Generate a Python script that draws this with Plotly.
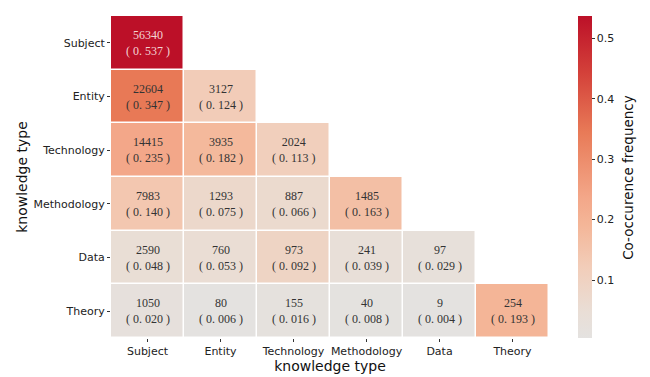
import plotly.graph_objects as go

categories = ["Subject", "Entity", "Technology", "Methodology", "Data", "Theory"]

# counts[row][col]; lower triangle only (None = empty)
counts = [
    [56340, None, None, None, None, None],
    [22604, 3127, None, None, None, None],
    [14415, 3935, 2024, None, None, None],
    [7983, 1293, 887, 1485, None, None],
    [2590, 760, 973, 241, 97, None],
    [1050, 80, 155, 40, 9, 254],
]
freqs = [
    [0.537, None, None, None, None, None],
    [0.347, 0.124, None, None, None, None],
    [0.235, 0.182, 0.113, None, None, None],
    [0.140, 0.075, 0.066, 0.163, None, None],
    [0.048, 0.053, 0.092, 0.039, 0.029, None],
    [0.020, 0.006, 0.016, 0.008, 0.004, 0.193],
]
cbar_ticks = [0.1, 0.2, 0.3, 0.4, 0.5]

colorscale = [
    [0.0, "rgb(228,226,224)"],
    [0.08, "rgb(233,222,214)"],
    [0.22, "rgb(242,205,185)"],
    [0.35, "rgb(244,182,152)"],
    [0.44, "rgb(243,166,136)"],
    [0.64, "rgb(232,122,87)"],
    [0.82, "rgb(212,66,58)"],
    [1.0, "rgb(188,16,40)"],
]

fig = go.Figure(go.Heatmap(
    z=freqs, x=categories, y=categories,
    colorscale=colorscale, zmin=0.004, zmax=0.537,
    xgap=1.5, ygap=1.5, hoverongaps=False,
    colorbar=dict(
        x=1.066, xanchor="left", y=0.5, yanchor="middle", xpad=0,
        len=1.0, lenmode="fraction", thickness=14, ypad=0,
        outlinewidth=0, tickvals=cbar_ticks, ticks="outside", ticklen=3,
        tickcolor="#333", tickfont=dict(family="DejaVu Sans", size=11, color="#222"),
    ),
))

annotations = []
for i, row in enumerate(counts):
    for j, c in enumerate(row):
        if c is None:
            continue
        f = freqs[i][j]
        color = "#f3d4d4" if f > 0.45 else "#333333"
        fs = f"{f:.3f}".replace(".", ". ")
        annotations.append(dict(
            x=categories[j], y=categories[i], xref="x", yref="y",
            text=f"{c}<br>( {fs} )", showarrow=False,
            font=dict(family="Liberation Serif", size=12, color=color),
        ))

# colorbar title
annotations.append(dict(
    x=1.180, y=0.5, xref="paper", yref="paper", xanchor="center", yanchor="middle",
    text="Co-occurence frequency", textangle=-90, showarrow=False,
    font=dict(family="DejaVu Sans", size=13.5, color="#111"),
))

fig.update_layout(
    width=642, height=369,
    margin=dict(l=103, r=101, t=8, b=39, autoexpand=False),
    paper_bgcolor="white", plot_bgcolor="white",
    annotations=annotations,
    xaxis=dict(
        title=dict(text="knowledge type", font=dict(family="DejaVu Sans", size=14, color="#111"), standoff=2),
        tickfont=dict(family="DejaVu Sans", size=11, color="#222"),
        ticks="outside", ticklen=3, tickcolor="#333", showgrid=False, zeroline=False,
        showline=False, automargin=False,
    ),
    yaxis=dict(
        title=dict(text="knowledge type", font=dict(family="DejaVu Sans", size=14, color="#111"), standoff=2),
        tickfont=dict(family="DejaVu Sans", size=11, color="#222"),
        ticks="outside", ticklen=3, tickcolor="#333", showgrid=False, zeroline=False,
        autorange="reversed", showline=False, automargin=False,
    ),
)

fig.write_html("out.html")
